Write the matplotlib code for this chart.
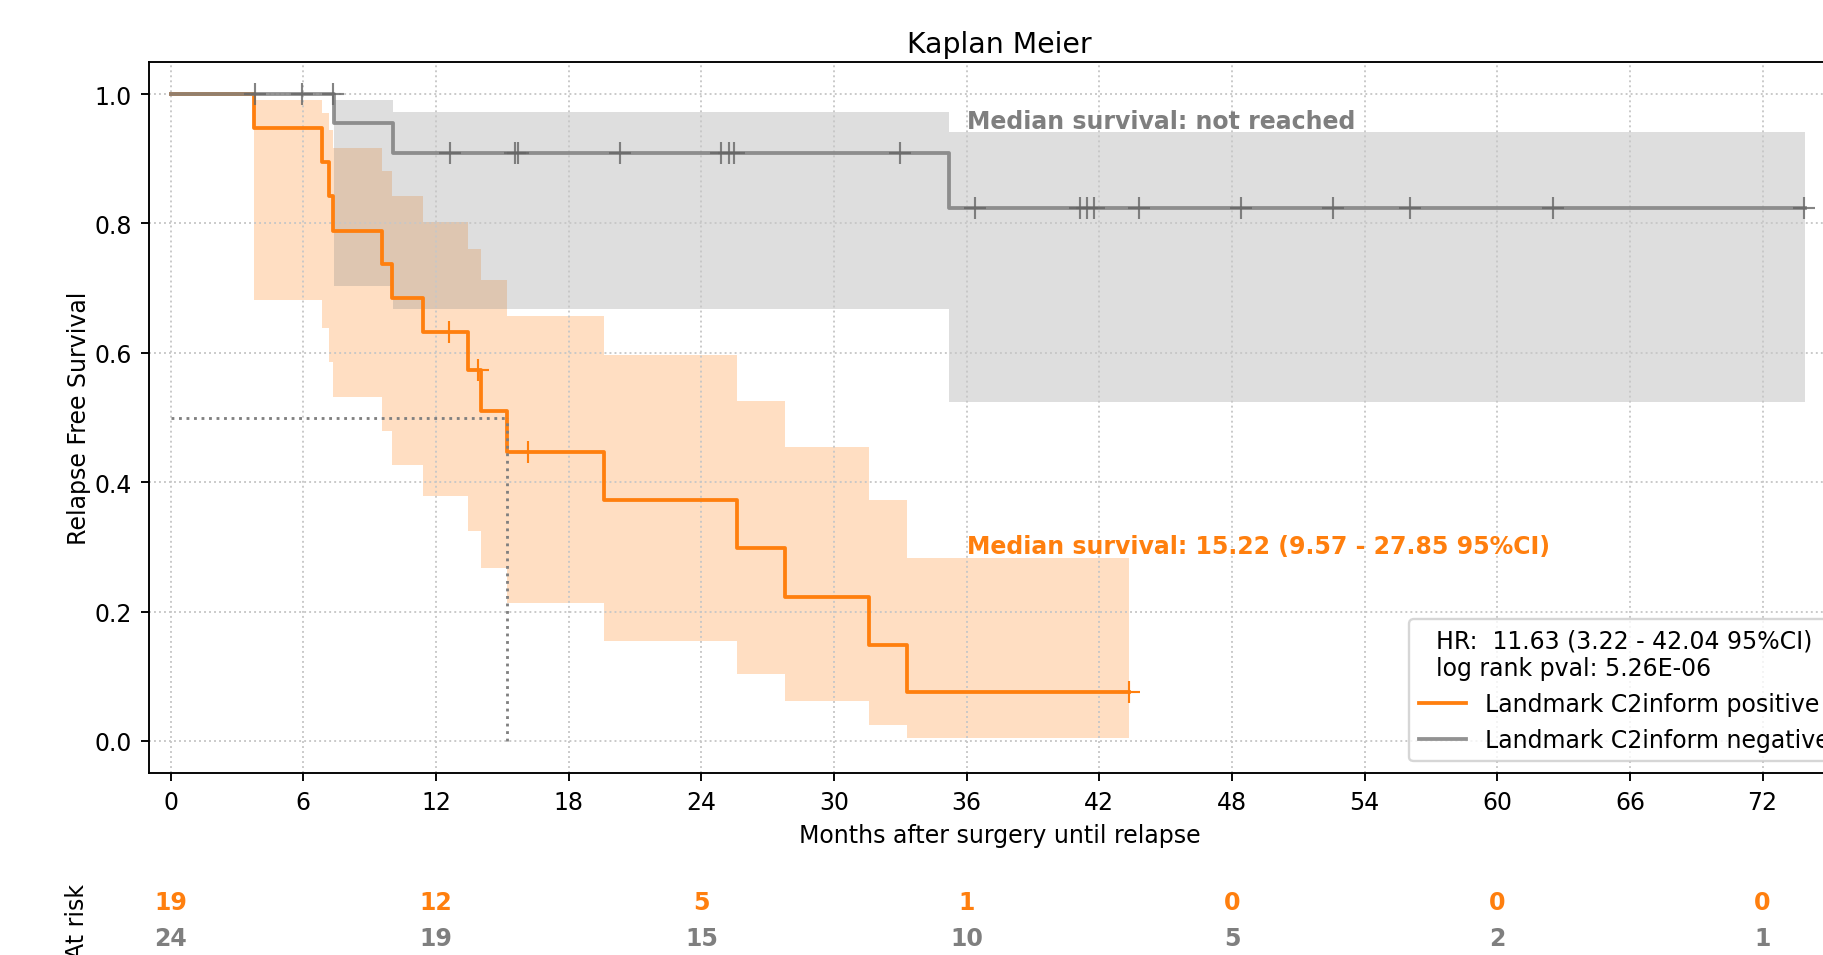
import numpy as np
import matplotlib.pyplot as plt
import matplotlib.transforms as mtransforms
from matplotlib.lines import Line2D

# Kaplan-Meier steps (months, survival, 95% CI)
pos_time = [0, 3.75, 6.86, 7.17, 7.33, 9.54, 10.0, 11.43, 13.43, 14.02,
            15.22, 19.6, 25.6, 27.8, 31.6, 33.3, 43.35]
pos_surv = [1.0, 0.947, 0.895, 0.842, 0.789, 0.737, 0.684, 0.632, 0.574,
            0.510, 0.447, 0.372, 0.298, 0.223, 0.149, 0.075, 0.075]
pos_upper = [1.0, 0.991, 0.971, 0.945, 0.916, 0.881, 0.843, 0.802, 0.761,
             0.712, 0.657, 0.596, 0.526, 0.454, 0.372, 0.283, 0.283]
pos_lower = [1.0, 0.681, 0.639, 0.586, 0.531, 0.479, 0.427, 0.379, 0.325,
             0.267, 0.214, 0.155, 0.103, 0.061, 0.025, 0.005, 0.005]
pos_censor = [12.6, 13.88, 16.17, 43.35]

neg_time = [0, 7.4, 10.05, 35.2, 73.9]
neg_surv = [1.0, 0.955, 0.909, 0.824, 0.824]
neg_upper = [1.0, 0.991, 0.973, 0.942, 0.942]
neg_lower = [1.0, 0.704, 0.668, 0.524, 0.524]
neg_censor = [3.83, 5.92, 7.33, 12.64, 15.59, 15.71, 20.33, 24.87, 25.26,
              25.50, 32.99, 36.37, 41.14, 41.46, 41.78, 43.80, 48.42, 52.57,
              56.04, 62.51, 73.89]

# numbers at risk
risk_times = [0, 12, 24, 36, 48, 60, 72]
pos_at_risk = [19, 12, 5, 1, 0, 0, 0]
neg_at_risk = [24, 19, 15, 10, 5, 2, 1]

median_pos = 15.22
labels = ['Landmark C2inform positive', 'Landmark C2inform negative']
stats_title = 'HR:  11.63 (3.22 - 42.04 95%CI)\nlog rank pval: 5.26E-06'

c_pos = 'tab:orange'
c_neg = 'tab:gray'


def surv_at(times, surv, t):
    idx = np.searchsorted(times, t, side='right') - 1
    return np.asarray(surv)[idx]


fig = plt.figure(figsize=(1824 / 170, 956 / 170), dpi=170)
ax = fig.add_axes([148.6 / 1824, 1 - 774.3 / 956,
                   (1851 - 148.6) / 1824, (774.3 - 62.7) / 956])

ax.grid(True, linestyle=':', color='0.78', linewidth=0.8)

# positive group
ax.fill_between(pos_time, pos_lower, pos_upper, step='post',
                color=c_pos, alpha=0.25, linewidth=0)
ax.step(pos_time, pos_surv, where='post', color=c_pos, lw=1.6)
ax.plot(pos_censor, surv_at(pos_time, pos_surv, pos_censor), ls='none',
        marker='+', ms=9, mew=0.9, color=c_pos)

# negative group
ax.fill_between(neg_time, neg_lower, neg_upper, step='post',
                color=c_neg, alpha=0.25, linewidth=0)
ax.step(neg_time, neg_surv, where='post', color=c_neg, lw=1.6, alpha=0.85)
ax.plot(neg_censor, surv_at(neg_time, neg_surv, neg_censor), ls='none',
        marker='+', ms=9, mew=0.9, color='0.4', alpha=0.8)

# median lines
ax.plot([0, median_pos], [0.5, 0.5], ls=':', color='gray', lw=1.2)
ax.plot([median_pos, median_pos], [0, 0.5], ls=':', color='gray', lw=1.2)

ax.text(36, 0.9475, 'Median survival: not reached', color=c_neg,
        fontweight='bold', va='baseline')
ax.text(36, 0.2905, 'Median survival: 15.22 (9.57 - 27.85 95%CI)',
        color=c_pos, fontweight='bold', va='baseline')

ax.set_xlim(-1, 76)
ax.set_ylim(-0.05, 1.05)
ax.set_xticks(np.arange(0, 73, 6))
ax.set_yticks(np.arange(0, 1.01, 0.2))
ax.set_title('Kaplan Meier', pad=4)
ax.set_xlabel('Months after surgery until relapse')
ax.set_ylabel('Relapse Free Survival', labelpad=1.5)

handles = [Line2D([], [], color=c_pos, lw=1.6),
           Line2D([], [], color=c_neg, lw=1.6, alpha=0.85)]
ax.legend(handles, labels, title=stats_title, loc='lower right')

# at-risk table under the axis
trans = mtransforms.blended_transform_factory(ax.transData, fig.transFigure)
for t, n1, n2 in zip(risk_times, pos_at_risk, neg_at_risk):
    ax.text(t, 1 - 902.7 / 956, str(n1), transform=trans, ha='center',
            va='center', color=c_pos, fontweight='bold', clip_on=False)
    ax.text(t, 1 - 939.3 / 956, str(n2), transform=trans, ha='center',
            va='center', color=c_neg, fontweight='bold', clip_on=False)
fig.text(76.7 / 1824, 1 - 921.8 / 956, 'At risk', rotation=90,
         ha='center', va='center')

fig.savefig('out.png', dpi=170)
